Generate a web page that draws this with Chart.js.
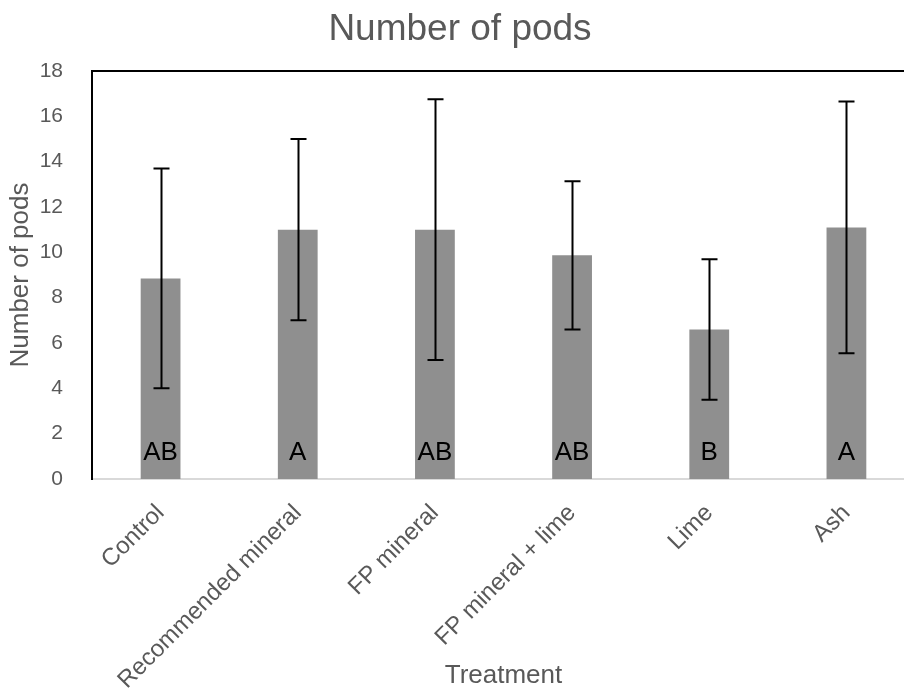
<!DOCTYPE html>
<html>
<head>
<meta charset="utf-8">
<script src="https://cdn.jsdelivr.net/npm/chart.js@4"></script>
<style>
html,body{margin:0;padding:0;overflow:hidden;background:#fff;width:904px;height:689px;}
#wrap{width:930px;height:689px;}
</style>
</head>
<body>
<div id="wrap"><canvas id="c" width="930" height="689"></canvas></div>
<script>
const categories = ["Control", "Recommended mineral", "FP mineral", "FP mineral + lime", "Lime", "Ash"];
const means = [8.85, 11.0, 11.0, 9.87, 6.6, 11.1];
const errors = [4.85, 4.0, 5.75, 3.27, 3.1, 5.55];
const letters = ["AB", "A", "AB", "AB", "B", "A"];
const yTicks = [0, 2, 4, 6, 8, 10, 12, 14, 16, 18];
const letterLevel = 1.2;

const FONT = "'Liberation Sans', Arial, sans-serif";
const TXT = "#595959";

const overlay = {
  id: 'overlay',
  afterDatasetsDraw(chart) {
    const ctx = chart.ctx;
    const x = chart.scales.x, y = chart.scales.y;
    const ca = chart.chartArea;
    ctx.save();
    ctx.strokeStyle = '#000';
    ctx.lineWidth = 2;
    ctx.beginPath();
    ctx.moveTo(ca.left, ca.top);
    ctx.lineTo(ca.right, ca.top);
    ctx.lineTo(ca.right, ca.bottom);
    ctx.stroke();
    ctx.lineWidth = 2;
    means.forEach((m, i) => {
      const cx = Math.round(x.getPixelForValue(i)) + 0.5;
      const yt = y.getPixelForValue(m + errors[i]);
      const yb = y.getPixelForValue(m - errors[i]);
      ctx.beginPath();
      ctx.moveTo(cx, yt); ctx.lineTo(cx, yb);
      ctx.moveTo(cx - 8, yt); ctx.lineTo(cx + 8, yt);
      ctx.moveTo(cx - 8, yb); ctx.lineTo(cx + 8, yb);
      ctx.stroke();
    });
    ctx.fillStyle = '#000';
    ctx.font = "26px " + FONT;
    ctx.textAlign = 'center';
    ctx.textBaseline = 'middle';
    letters.forEach((t, i) => {
      ctx.fillText(t, x.getPixelForValue(i), y.getPixelForValue(letterLevel) + 1);
    });
    ctx.restore();
  }
};

new Chart(document.getElementById('c'), {
  type: 'bar',
  data: {
    labels: categories,
    datasets: [{
      data: means,
      backgroundColor: '#8f8f8f',
      borderWidth: 0,
      barPercentage: 0.58,
      categoryPercentage: 0.5
    }]
  },
  options: {
    responsive: false,
    animation: false,
    devicePixelRatio: 1,
    layout: { padding: { top: 0, left: 5, right: 15, bottom: 0 } },
    plugins: {
      legend: { display: false },
      tooltip: { enabled: false },
      title: {
        display: true,
        text: 'Number of pods',
        color: TXT,
        font: { family: FONT, size: 37, weight: 'normal' },
        padding: { top: 8, bottom: 18.6 }
      }
    },
    scales: {
      x: {
        grid: { display: false, drawTicks: false },
        border: { display: true, color: '#d9d9d9', width: 2 },
        ticks: {
          color: TXT,
          font: { family: FONT, size: 24 },
          maxRotation: 45, minRotation: 45,
          padding: 20,
          autoSkip: false
        },
        title: {
          display: true,
          text: 'Treatment',
          color: TXT,
          font: { family: FONT, size: 26, lineHeight: 1.0 },
          padding: { top: 0, bottom: 0 }
        },
        afterFit(s) { s.height = 210; }
      },
      y: {
        min: 0, max: 18,
        afterBuildTicks(s) { s.ticks = yTicks.map(v => ({ value: v })); },
        grid: { display: false, drawTicks: false },
        border: { display: true, color: '#000', width: 2 },
        ticks: {
          color: TXT,
          font: { family: FONT, size: 21 },
          padding: 29
        },
        title: {
          display: true,
          text: 'Number of pods',
          color: TXT,
          font: { family: FONT, size: 26 },
          padding: { top: 0, bottom: 0 }
        },
        afterFit(s) { s.width = 87; }
      }
    }
  },
  plugins: [overlay]
});
</script>
</body>
</html>
